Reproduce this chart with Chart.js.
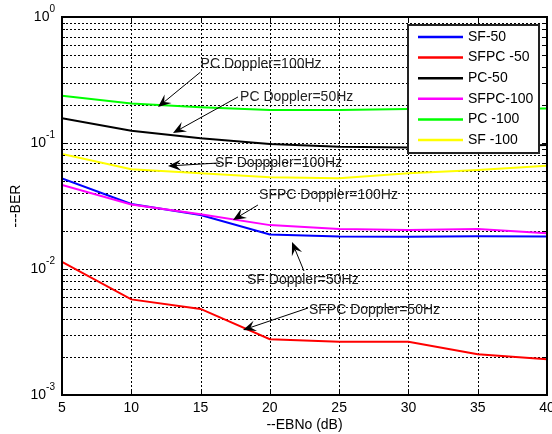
<!DOCTYPE html>
<html>
<head>
<meta charset="utf-8">
<script src="https://cdn.jsdelivr.net/npm/chart.js@4/dist/chart.umd.min.js"></script>
<style>
  html, body { margin: 0; padding: 0; background: #fff; }
  #wrap { width: 552px; height: 434px; }
</style>
</head>
<body>
<div id="wrap"><canvas id="berChart" width="552" height="434"></canvas></div>
<script>
// EBNo points (dB)
const ebno = [5, 10, 15, 20, 25, 30, 35, 40];

// BER
const sf_50     = [0.0524, 0.0328, 0.0268, 0.0188, 0.0181, 0.0180, 0.0182, 0.0181];
const sfpc_50   = [0.0114, 0.00574, 0.00482, 0.00277, 0.00265, 0.00265, 0.00211, 0.00192];
const pc_50     = [0.157, 0.125, 0.109, 0.098, 0.0935, 0.092, 0.094, 0.0964];
const sfpc_100  = [0.0464, 0.0325, 0.0272, 0.0223, 0.0208, 0.0204, 0.0208, 0.0192];
const pc_100    = [0.237, 0.206, 0.192, 0.183, 0.183, 0.186, 0.187, 0.188];
const sf_100    = [0.0818, 0.0618, 0.0575, 0.0534, 0.0524, 0.0575, 0.061, 0.066];

const seriesLabels = ['SF-50', 'SFPC -50', 'PC-50', 'SFPC-100', 'PC -100', 'SF -100'];
const seriesColors = ['#0000ff', '#ff0000', '#000000', '#ff00ff', '#00ff00', '#ffff00'];
const seriesData = [sf_50, sfpc_50, pc_50, sfpc_100, pc_100, sf_100];

// axis ticks
const xTicks = [5, 10, 15, 20, 25, 30, 35, 40];
const yDecades = [0.001, 0.01, 0.1, 1];
const yDecadeExp = ['-3', '-2', '-1', '0'];
const yMinorSteps = [2, 3, 4, 5, 6, 7, 8, 9];

// text + arrow annotations, in data units
const notes = [
  { text: 'PC Doppler=100Hz',   x: 15.0,  y: 0.424,   from: [15.0, 0.366],   to: [11.93, 0.193] },
  { text: 'PC Doppler=50Hz',    x: 17.85, y: 0.232,   from: [17.7, 0.232],   to: [13.01, 0.120] },
  { text: 'SF Dopppler=100Hz',  x: 16.04, y: 0.0694,  from: [16.3, 0.0694],  to: [12.65, 0.0657] },
  { text: 'SFPC Doppler=100Hz', x: 19.22, y: 0.0387,  from: [19.14, 0.0322], to: [17.34, 0.0245] },
  { text: 'SF Doppler=50Hz',    x: 18.35, y: 0.00818, from: [22.46, 0.00964], to: [21.6, 0.01637] },
  { text: 'SFPC Doppler=50Hz',  x: 22.82, y: 0.00473, from: [22.75, 0.0049], to: [18.06, 0.00328] }
];

const FONT = '"Liberation Sans", Arial, sans-serif';

function yTickValues() {
  const vals = [];
  yDecades.forEach((d, i) => {
    vals.push(d);
    if (i < yDecades.length - 1) yMinorSteps.forEach(m => vals.push(d * m));
  });
  return vals;
}

function drawArrow(ctx, x1, y1, x2, y2) {
  const ang = Math.atan2(y2 - y1, x2 - x1);
  const len = 13, half = 5.5, back = 8;
  const c = Math.cos(ang), s = Math.sin(ang);
  ctx.beginPath();
  ctx.moveTo(x1, y1);
  ctx.lineTo(x2 - c * back, y2 - s * back);
  ctx.stroke();
  ctx.beginPath();
  ctx.moveTo(x2, y2);
  ctx.lineTo(x2 - c * len + s * half, y2 - s * len - c * half);
  ctx.lineTo(x2 - c * back, y2 - s * back);
  ctx.lineTo(x2 - c * len - s * half, y2 - s * len + c * half);
  ctx.closePath();
  ctx.fill();
}

// dotted MATLAB-style grid, under the lines
const dottedGrid = {
  id: 'dottedGrid',
  beforeDatasetsDraw(chart) {
    const ctx = chart.ctx;
    const a = chart.chartArea;
    const xs = chart.scales.x, ys = chart.scales.y;
    ctx.save();
    ctx.strokeStyle = '#000';
    ctx.lineWidth = 1;
    ctx.setLineDash([2, 2]);
    ctx.beginPath();
    xTicks.forEach(v => {
      const px = Math.round(xs.getPixelForValue(v)) + 0.5;
      ctx.moveTo(px, a.top); ctx.lineTo(px, a.bottom);
    });
    yTickValues().forEach(v => {
      const py = Math.round(ys.getPixelForValue(v)) + 0.5;
      ctx.moveTo(a.left, py); ctx.lineTo(a.right, py);
    });
    ctx.stroke();
    ctx.restore();
  }
};

const matlabLook = {
  id: 'matlabLook',
  afterDraw(chart) {
    const ctx = chart.ctx;
    const a = chart.chartArea;
    const xs = chart.scales.x, ys = chart.scales.y;
    ctx.save();
    ctx.strokeStyle = '#000';
    ctx.fillStyle = '#000';

    // inward tick marks
    ctx.lineWidth = 1;
    ctx.beginPath();
    xTicks.forEach(v => {
      const px = Math.round(xs.getPixelForValue(v)) + 0.5;
      ctx.moveTo(px, a.bottom); ctx.lineTo(px, a.bottom - 5);
      ctx.moveTo(px, a.top); ctx.lineTo(px, a.top + 5);
    });
    yTickValues().forEach(v => {
      const py = Math.round(ys.getPixelForValue(v)) + 0.5;
      const l = yDecades.includes(v) ? 5 : 3;
      ctx.moveTo(a.left, py); ctx.lineTo(a.left + l, py);
      ctx.moveTo(a.right, py); ctx.lineTo(a.right - l, py);
    });
    ctx.stroke();

    // frame
    ctx.lineWidth = 2;
    ctx.strokeRect(a.left, a.top, a.right - a.left, a.bottom - a.top);

    // x tick labels
    ctx.font = '14px ' + FONT;
    ctx.textAlign = 'center';
    ctx.textBaseline = 'middle';
    xTicks.forEach(v => ctx.fillText(String(v), xs.getPixelForValue(v), a.bottom + 13));

    // y tick labels 10^n
    yDecades.forEach((v, i) => {
      const py = ys.getPixelForValue(v);
      ctx.font = '10px ' + FONT;
      ctx.textAlign = 'right';
      const ex = yDecadeExp[i];
      const exX = a.left - 7;
      ctx.fillText(ex, exX, py - 8);
      const exW = ctx.measureText(ex).width;
      ctx.font = '14px ' + FONT;
      ctx.fillText('10', exX - exW, py);
    });

    // axis titles
    ctx.textAlign = 'center';
    ctx.font = '14px ' + FONT;
    ctx.fillText('--EBNo (dB)', (a.left + a.right) / 2, 425);
    ctx.save();
    ctx.translate(16, (a.top + a.bottom) / 2);
    ctx.rotate(-Math.PI / 2);
    ctx.fillText('---BER', 0, 0);
    ctx.restore();

    // annotations
    ctx.lineWidth = 1;
    ctx.textAlign = 'left';
    notes.forEach(n => {
      drawArrow(ctx,
        xs.getPixelForValue(n.from[0]), ys.getPixelForValue(n.from[1]),
        xs.getPixelForValue(n.to[0]), ys.getPixelForValue(n.to[1]));
    });
    ctx.fillStyle = '#222';
    notes.forEach(n => {
      ctx.fillText(n.text, xs.getPixelForValue(n.x), ys.getPixelForValue(n.y));
    });

    // legend box
    const lx = 408, ly = 25, lw = 131, lh = 128;
    ctx.fillStyle = '#fff';
    ctx.fillRect(lx, ly, lw, lh);
    ctx.lineWidth = 2;
    ctx.strokeStyle = '#222';
    ctx.strokeRect(lx, ly, lw, lh);
    ctx.lineWidth = 2.5;
    seriesLabels.forEach((lab, i) => {
      const ry = ly + 12 + i * 20.6;
      ctx.strokeStyle = seriesColors[i];
      ctx.beginPath();
      ctx.moveTo(lx + 10, ry); ctx.lineTo(lx + 55, ry);
      ctx.stroke();
      ctx.fillStyle = '#000';
      ctx.fillText(lab, lx + 60, ry);
    });
    ctx.restore();
  }
};

const datasets = seriesLabels.map((lab, i) => ({
  label: lab,
  data: seriesData[i],
  borderColor: seriesColors[i],
  backgroundColor: seriesColors[i],
  borderWidth: 2,
  pointRadius: 0,
  tension: 0,
  fill: false,
  order: seriesLabels.length - i
}));

const ber_config = {
  type: 'line',
  data: { labels: ebno, datasets: datasets },
  options: {
    responsive: false,
    animation: false,
    devicePixelRatio: 1,
    layout: { padding: { left: 62, top: 17, right: 5, bottom: 39 } },
    plugins: { legend: { display: false }, tooltip: { enabled: false } },
    scales: {
      x: {
        type: 'linear',
        min: 5, max: 40,
        afterBuildTicks: s => { s.ticks = xTicks.map(v => ({ value: v })); },
        ticks: { display: false },
        grid: { display: false, drawTicks: false },
        border: { display: false }
      },
      y: {
        type: 'logarithmic',
        min: 0.001, max: 1,
        afterBuildTicks: s => { s.ticks = yTickValues().map(v => ({ value: v })); },
        ticks: { display: false },
        grid: { display: false, drawTicks: false },
        border: { display: false }
      }
    }
  },
  plugins: [dottedGrid, matlabLook]
};

var berChart = new Chart(document.getElementById('berChart'), ber_config);
</script>
</body>
</html>
